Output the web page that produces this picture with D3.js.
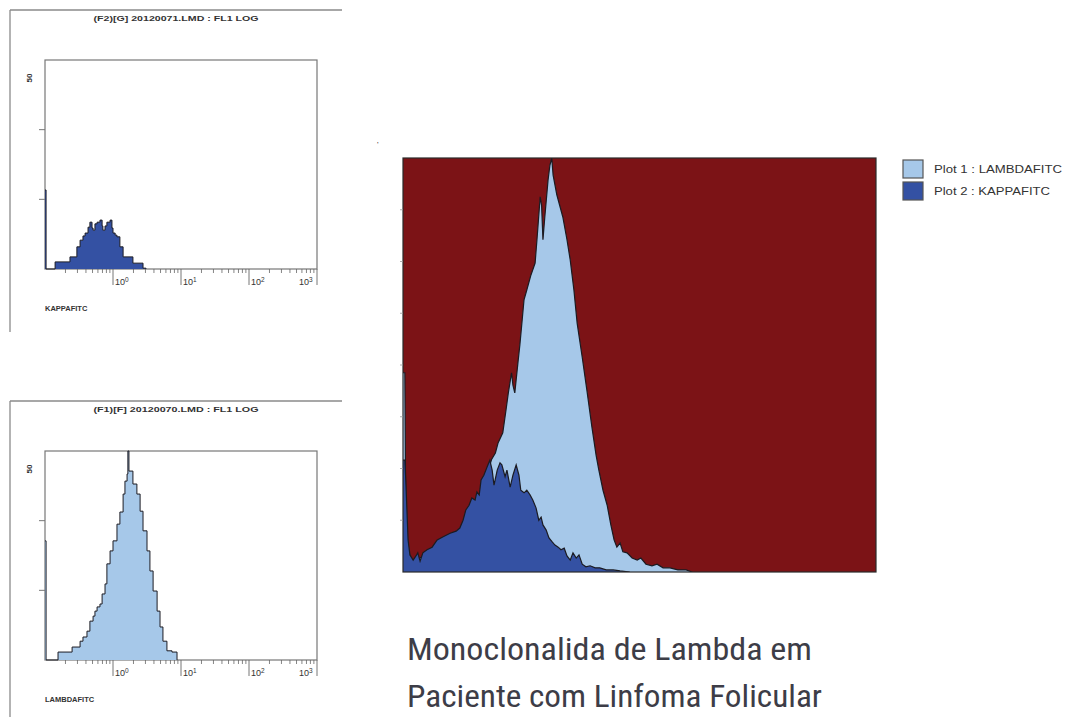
<!DOCTYPE html>
<html>
<head>
<meta charset="utf-8">
<script src="https://cdn.jsdelivr.net/npm/d3@7"></script>
<style>
  body { margin: 0; background: #fff; }
  svg { display: block; }
  .smalltxt { font-family: "Liberation Sans", Arial, sans-serif; fill: #333; }
</style>
</head>
<body>
<div id="chart"></div>
<script>
// histogram readings: [FL1 channel (0-1024, 4 log decades), count]
var kappaSmall = [[0,18.9],[4,0],[38,1.7],[94,2.9],[120,5.3],[132,6.9],[143,7.9],[151,8.6],[162,10],[169,11.2],[177,9.8],[181,9.3],[188,10.8],[196,11.2],[207,11.7],[215,10.3],[218,9.3],[226,10.3],[233,11.2],[245,11.7],[252,9.8],[256,8.6],[264,8.1],[271,7.7],[282,5.3],[294,2.9],[331,1.4],[369,0.2],[380,0]];
var lambdaSmall = [[0,28.5],[4,0],[49,1.9],[102,3.1],[132,4.5],[143,5.5],[158,6.9],[169,9.3],[181,10.5],[188,11.7],[196,12.7],[207,13.4],[215,15.8],[226,18.2],[233,23],[245,26.1],[256,28.5],[271,32.5],[282,35.4],[294,39.7],[301,42.8],[309,44.5],[312,50],[316,45.2],[331,42.1],[346,39.7],[358,35.6],[369,30.9],[384,26.1],[395,21.3],[407,16.5],[422,11.7],[433,7.9],[444,4.5],[459,2.2],[478,1.9],[497,0]];

var lambdaMain = [[0,38.5],[4,38.5],[6,10],[9,6],[15,3],[22,2],[37,2.7],[58,3.9],[80,5.2],[102,6.6],[123,7],[145,11],[167,14],[184,19.5],[192,21.8],[200,23],[206,25],[216,26.9],[223,31.3],[228,34.6],[235,38.5],[238,36.1],[242,34.6],[249,40.6],[253,43.9],[258,48.7],[262,52.6],[268,54.5],[277,57.4],[286,59.7],[290,64.2],[297,72.5],[300,70.9],[303,64.2],[307,68.6],[314,75.7],[318,78.6],[322,80],[325,76.7],[333,72.9],[346,68.6],[355,64.2],[362,60.3],[370,54.5],[377,48.1],[388,41.5],[398,35.2],[409,28],[418,22.6],[424,19.7],[433,15.8],[442,12.9],[450,9.1],[457,6.2],[463,4.8],[470,5.6],[476,3.9],[485,3.7],[496,2.7],[507,2.3],[515,2.7],[526,1.5],[539,1.2],[550,1.5],[563,0.8],[578,0.8],[595,0.4],[613,0.4],[626,0]];
var kappaMain = [[0,21.6],[4,21.6],[6,17.8],[11,6.2],[15,3.3],[22,2.3],[28,3.1],[32,3.7],[37,2.1],[43,3.7],[52,4.3],[63,4.8],[74,6.2],[87,6.8],[102,7.5],[115,7.9],[123,8.5],[130,10],[136,12],[143,12.9],[149,14.3],[156,13.9],[160,15.5],[165,14.9],[169,17.8],[175,18.7],[182,20.3],[188,21.6],[193,19.7],[197,16.8],[204,19.7],[210,21.1],[214,20.7],[221,18.4],[225,19.7],[232,16.4],[238,18.7],[245,20.7],[251,18.7],[255,15.8],[262,15.3],[268,15.8],[275,14.9],[281,13.9],[288,12.4],[294,10],[299,10.6],[303,9.1],[310,8.1],[316,6.6],[323,5.8],[329,5.2],[336,4.8],[342,4.3],[349,4.6],[355,3.1],[362,2.3],[368,3.7],[375,2.7],[381,3.3],[388,1.5],[396,1],[405,1.2],[416,0.8],[426,0.8],[440,0.4],[455,0.4],[470,0.2],[491,0]];

var decadeTicks = [256, 512, 768, 1024];
var decadeExp = ["0", "1", "2", "3"];
var legendLabels = ["Plot 1 : LAMBDAFITC", "Plot 2 : KAPPAFITC"];
var captionLines = ["Monoclonalida de Lambda em", "Paciente com Linfoma Folicular"];

var lightBlue = "#a6c8e9", darkBlue = "#3451a3", darkRed = "#7c1316";

var svg = d3.select("#chart").append("svg").attr("width", 1068).attr("height", 717);

// minor log ticks inside each decade
var minorTicks = [];
for (var dec = 0; dec < 4; dec++) {
  for (var k = 2; k <= 9; k++) minorTicks.push(dec * 256 + 256 * Math.log10(k));
}

function smallPanel(top, title, xlabel, data, fill) {
  var x0 = 45, x1 = 317, y0 = top, y1 = top + 209;
  var g = svg.append("g");
  // outer box (only top and left edges visible in the scan)
  g.append("line").attr("x1", 10).attr("x2", 342).attr("y1", top - 50).attr("y2", top - 50)
    .attr("stroke", "#8a8a8a").attr("stroke-width", 1.3);
  g.append("line").attr("x1", 10).attr("x2", 10).attr("y1", top - 50).attr("y2", top + 272)
    .attr("stroke", "#8a8a8a").attr("stroke-width", 1.3);

  g.append("text").attr("class", "smalltxt").attr("x", 176).attr("y", top - 39)
    .attr("text-anchor", "middle").attr("font-size", 7.5).attr("font-weight", "bold")
    .attr("fill", "#444")
    .attr("textLength", 165).attr("lengthAdjust", "spacingAndGlyphs").text(title);

  var x = d3.scaleLinear().domain([0, 1024]).range([x0, x1]);
  var y = d3.scaleLinear().domain([0, 50]).range([y1, y0]);

  g.append("rect").attr("x", x0).attr("y", y0).attr("width", x1 - x0).attr("height", y1 - y0)
    .attr("fill", "#fff").attr("stroke", "#777").attr("stroke-width", 1.2);

  var area = d3.area().curve(d3.curveStepAfter).x(function (d) { return x(d[0]); })
    .y0(y1).y1(function (d) { return y(d[1]); });
  var line = d3.line().curve(d3.curveStepAfter).x(function (d) { return x(d[0]); })
    .y(function (d) { return y(d[1]); });
  g.append("path").datum(data).attr("d", area).attr("fill", fill);
  g.append("path").datum(data).attr("d", line).attr("fill", "none")
    .attr("stroke", "#1c1c24").attr("stroke-width", 1);

  // y ticks
  [50 / 3, 100 / 3].forEach(function (v) {
    g.append("line").attr("x1", x0 - 6).attr("x2", x0).attr("y1", y(v)).attr("y2", y(v))
      .attr("stroke", "#777");
  });
  g.append("text").attr("class", "smalltxt").attr("font-size", 8).attr("font-weight", "bold")
    .attr("transform", "translate(32," + (y0 + 18) + ") rotate(-90)")
    .attr("text-anchor", "middle").text("50");

  // x ticks
  minorTicks.forEach(function (c) {
    g.append("line").attr("x1", x(c)).attr("x2", x(c)).attr("y1", y1).attr("y2", y1 + 4)
      .attr("stroke", "#666").attr("stroke-width", 0.8);
  });
  decadeTicks.forEach(function (c, i) {
    g.append("line").attr("x1", x(c)).attr("x2", x(c)).attr("y1", y1).attr("y2", y1 + 16)
      .attr("stroke", "#666").attr("stroke-width", 0.9);
    var t = g.append("text").attr("class", "smalltxt").attr("font-size", 9)
      .attr("x", x(c) + (i === 3 ? -18 : 2)).attr("y", y1 + 16);
    t.append("tspan").text("10");
    t.append("tspan").attr("font-size", 6.5).attr("dy", -3.5).text(decadeExp[i]);
  });

  g.append("text").attr("class", "smalltxt").attr("font-size", 7.5).attr("font-weight", "bold")
    .attr("fill", "#444").attr("x", x0).attr("y", y1 + 42).text(xlabel);
}

smallPanel(60, "(F2)[G] 20120071.LMD : FL1 LOG", "KAPPAFITC", kappaSmall, darkBlue);
smallPanel(451, "(F1)[F] 20120070.LMD : FL1 LOG", "LAMBDAFITC", lambdaSmall, lightBlue);

// overlay plot
var mx0 = 403, mx1 = 876, my0 = 158, my1 = 572;
var mx = d3.scaleLinear().domain([0, 1024]).range([mx0, mx1]);
var my = d3.scaleLinear().domain([0, 80]).range([my1, my0]);
var main = svg.append("g");

main.append("clipPath").attr("id", "mclip").append("rect")
  .attr("x", mx0).attr("y", my0).attr("width", mx1 - mx0).attr("height", my1 - my0);
main.append("rect").attr("x", mx0).attr("y", my0).attr("width", mx1 - mx0).attr("height", my1 - my0)
  .attr("fill", darkRed);

var marea = d3.area().x(function (d) { return mx(d[0]); }).y0(my1).y1(function (d) { return my(d[1]); });
var mline = d3.line().x(function (d) { return mx(d[0]); }).y(function (d) { return my(d[1]); });
var plot = main.append("g").attr("clip-path", "url(#mclip)");
plot.append("path").datum(lambdaMain).attr("d", marea).attr("fill", lightBlue);
plot.append("path").datum(lambdaMain).attr("d", mline).attr("fill", "none")
  .attr("stroke", "#1b1b22").attr("stroke-width", 1.2);
plot.append("path").datum(kappaMain).attr("d", marea).attr("fill", darkBlue);
plot.append("path").datum(kappaMain).attr("d", mline).attr("fill", "none")
  .attr("stroke", "#1b1b22").attr("stroke-width", 1.2);

main.append("rect").attr("x", mx0).attr("y", my0).attr("width", mx1 - mx0).attr("height", my1 - my0)
  .attr("fill", "none").attr("stroke", "#2a2a2a").attr("stroke-width", 1.2);
d3.range(10, 80, 10).forEach(function (v) {
  main.append("line").attr("x1", mx0 - 3).attr("x2", mx0).attr("y1", my(v)).attr("y2", my(v))
    .attr("stroke", "#999").attr("stroke-width", 0.8);
});
main.append("text").attr("class", "smalltxt").attr("x", 377).attr("y", 147)
  .attr("font-size", 8).text("'");

// legend
var leg = svg.append("g");
[lightBlue, darkBlue].forEach(function (c, i) {
  leg.append("rect").attr("x", 903).attr("y", 160 + i * 22).attr("width", 20).attr("height", 18)
    .attr("fill", c).attr("stroke", "#555").attr("stroke-width", 1.2);
  leg.append("text").attr("class", "smalltxt").attr("x", 934).attr("y", 173 + i * 22)
    .attr("font-size", 10).attr("fill", "#555")
    .attr("textLength", i === 0 ? 128 : 116).attr("lengthAdjust", "spacingAndGlyphs")
    .text(legendLabels[i]);
});

// caption
captionLines.forEach(function (s, i) {
  svg.append("text").attr("x", 407).attr("y", 660 + i * 47)
    .attr("font-family", "'Liberation Sans Narrow', 'Roboto Condensed', Roboto, sans-serif")
    .attr("font-size", 31).attr("fill", "#3d3d47")
    .attr("textLength", i === 0 ? 405 : 415).attr("lengthAdjust", "spacingAndGlyphs")
    .text(s);
});
</script>
</body>
</html>
